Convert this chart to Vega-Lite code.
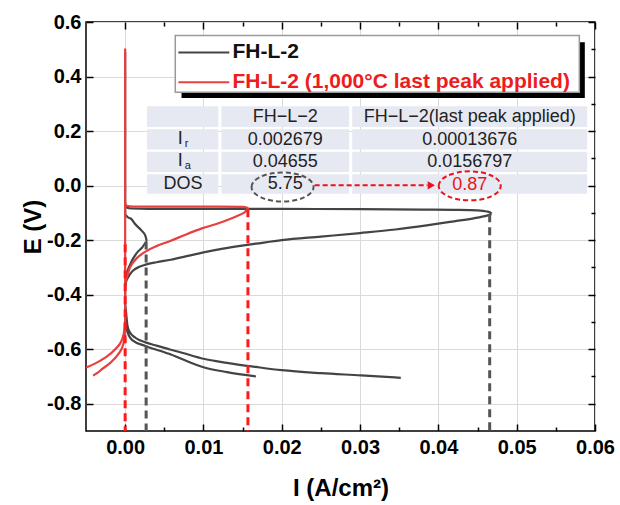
{
"$schema": "https://vega.github.io/schema/vega-lite/v6.json",
"width": 509, "height": 409,
"autosize": {"type": "none"},
"padding": {"left": 86, "top": 22, "right": 25, "bottom": 74},
"background": "white",
"config": {"view": {"stroke": "#000", "strokeWidth": 1.5}, "font": "Liberation Sans"},
"datasets": {
"cells": [
{"x": 0.0028, "x2": 0.0119, "y": 0.215, "y2": 0.291},
{"x": 0.0123, "x2": 0.0286, "y": 0.215, "y2": 0.291},
{"x": 0.0290, "x2": 0.0590, "y": 0.215, "y2": 0.291},
{"x": 0.0028, "x2": 0.0119, "y": 0.132, "y2": 0.207},
{"x": 0.0123, "x2": 0.0286, "y": 0.132, "y2": 0.207},
{"x": 0.0290, "x2": 0.0590, "y": 0.132, "y2": 0.207},
{"x": 0.0028, "x2": 0.0119, "y": 0.050, "y2": 0.124},
{"x": 0.0123, "x2": 0.0286, "y": 0.050, "y2": 0.124},
{"x": 0.0290, "x2": 0.0590, "y": 0.050, "y2": 0.124},
{"x": 0.0028, "x2": 0.0119, "y": -0.030, "y2": 0.042},
{"x": 0.0123, "x2": 0.0286, "y": -0.030, "y2": 0.042},
{"x": 0.0290, "x2": 0.0590, "y": -0.030, "y2": 0.042}
],
"shadow": [{"x": 0.0072, "x2": 0.0587, "y": 0.321, "y2": 0.526}],
"box": [{"x": 0.0064, "x2": 0.0580, "y": 0.342, "y2": 0.5505}],
"legendLines": [
{"s": "b", "x": 0.0068, "x2": 0.0133, "y": 0.488},
{"s": "r", "x": 0.0068, "x2": 0.0133, "y": 0.379}
],
"legendBlack": [{"x": 0.0137, "y": 0.490, "t": "FH-L-2"}],
"legendRed": [{"x": 0.0137, "y": 0.381, "t": "FH-L-2 (1,000°C last peak applied)"}],
"tableText": [
{"x": 0.02045, "y": 0.2525, "t": "FH−L−2"},
{"x": 0.044, "y": 0.2525, "t": "FH−L−2(last peak applied)"},
{"x": 0.00705, "y": 0.17, "t": "I"},
{"x": 0.02045, "y": 0.168, "t": "0.002679"},
{"x": 0.044, "y": 0.168, "t": "0.00013676"},
{"x": 0.00705, "y": 0.089, "t": "I"},
{"x": 0.02045, "y": 0.087, "t": "0.04655"},
{"x": 0.044, "y": 0.087, "t": "0.0156797"},
{"x": 0.0074, "y": 0.006, "t": "DOS"},
{"x": 0.02045, "y": 0.006, "t": "5.75"}
],
"subs": [
{"x": 0.0076, "y": 0.17, "t": "r"},
{"x": 0.0076, "y": 0.089, "t": "a"}
],
"redText": [{"x": 0.044, "y": 0.004, "t": "0.87"}],
"grayEllipse": [{"x": 0.0201, "y": -0.005}],
"redEllipse": [{"x": 0.044, "y": -0.001}],
"arrow": [{"x": 0.0242, "x2": 0.0386, "y": 0.001}],
"arrowHead": [{"x": 0.0391, "y": 0.001}],
"curves": [
{"s": "b", "o": 1, "x": 0.0352, "y": -0.705},
{"s": "b", "o": 2, "x": 0.0301, "y": -0.696},
{"s": "b", "o": 3, "x": 0.025, "y": -0.688},
{"s": "b", "o": 4, "x": 0.02, "y": -0.677},
{"s": "b", "o": 5, "x": 0.0167, "y": -0.665},
{"s": "b", "o": 6, "x": 0.013, "y": -0.65},
{"s": "b", "o": 7, "x": 0.01, "y": -0.635},
{"s": "b", "o": 8, "x": 0.0075, "y": -0.615},
{"s": "b", "o": 9, "x": 0.0056, "y": -0.6},
{"s": "b", "o": 10, "x": 0.004, "y": -0.587},
{"s": "b", "o": 11, "x": 0.0026, "y": -0.575},
{"s": "b", "o": 12, "x": 0.0013, "y": -0.558},
{"s": "b", "o": 13, "x": 0.0006, "y": -0.538},
{"s": "b", "o": 14, "x": 0.0003, "y": -0.515},
{"s": "b", "o": 15, "x": 0.0002, "y": -0.49},
{"s": "b", "o": 16, "x": 0.0001, "y": -0.46},
{"s": "b", "o": 17, "x": 0.0, "y": -0.43},
{"s": "b", "o": 18, "x": 0.0, "y": -0.38},
{"s": "b", "o": 19, "x": 0.0001, "y": -0.355},
{"s": "b", "o": 20, "x": 0.0004, "y": -0.335},
{"s": "b", "o": 21, "x": 0.001, "y": -0.312},
{"s": "b", "o": 22, "x": 0.0018, "y": -0.298},
{"s": "b", "o": 23, "x": 0.0026, "y": -0.29},
{"s": "b", "o": 24, "x": 0.004, "y": -0.281},
{"s": "b", "o": 25, "x": 0.0058, "y": -0.272},
{"s": "b", "o": 26, "x": 0.008, "y": -0.258},
{"s": "b", "o": 27, "x": 0.01, "y": -0.245},
{"s": "b", "o": 28, "x": 0.0125, "y": -0.231},
{"s": "b", "o": 29, "x": 0.0147, "y": -0.221},
{"s": "b", "o": 30, "x": 0.0167, "y": -0.213},
{"s": "b", "o": 31, "x": 0.02, "y": -0.2},
{"s": "b", "o": 32, "x": 0.025, "y": -0.187},
{"s": "b", "o": 33, "x": 0.03, "y": -0.174},
{"s": "b", "o": 34, "x": 0.0345, "y": -0.161},
{"s": "b", "o": 35, "x": 0.0385, "y": -0.146},
{"s": "b", "o": 36, "x": 0.042, "y": -0.131},
{"s": "b", "o": 37, "x": 0.0445, "y": -0.12},
{"s": "b", "o": 38, "x": 0.0462, "y": -0.11},
{"s": "b", "o": 39, "x": 0.0468, "y": -0.105},
{"s": "b", "o": 40, "x": 0.0467, "y": -0.1},
{"s": "b", "o": 41, "x": 0.0462, "y": -0.095},
{"s": "b", "o": 42, "x": 0.045, "y": -0.091},
{"s": "b", "o": 43, "x": 0.042, "y": -0.089},
{"s": "b", "o": 44, "x": 0.038, "y": -0.088},
{"s": "b", "o": 45, "x": 0.03, "y": -0.0865},
{"s": "b", "o": 46, "x": 0.02, "y": -0.0855},
{"s": "b", "o": 47, "x": 0.01, "y": -0.085},
{"s": "b", "o": 48, "x": 0.003, "y": -0.085},
{"s": "b", "o": 49, "x": 0.0008, "y": -0.084},
{"s": "b", "o": 50, "x": 0.0002, "y": -0.08},
{"s": "b", "o": 51, "x": 0.0, "y": -0.07},
{"s": "b", "o": 52, "x": 0.0, "y": 0.49},
{"s": "b", "o": 53, "x": 0.0, "y": -0.105},
{"s": "b", "o": 54, "x": 0.0003, "y": -0.115},
{"s": "b", "o": 55, "x": 0.0008, "y": -0.123},
{"s": "b", "o": 56, "x": 0.0013, "y": -0.142},
{"s": "b", "o": 57, "x": 0.0021, "y": -0.165},
{"s": "b", "o": 58, "x": 0.0026, "y": -0.185},
{"s": "b", "o": 59, "x": 0.0028, "y": -0.205},
{"s": "b", "o": 60, "x": 0.0022, "y": -0.226},
{"s": "b", "o": 61, "x": 0.0014, "y": -0.25},
{"s": "b", "o": 62, "x": 0.0007, "y": -0.285},
{"s": "b", "o": 63, "x": 0.0002, "y": -0.325},
{"s": "b", "o": 64, "x": 0.0, "y": -0.36},
{"s": "b", "o": 65, "x": 0.0, "y": -0.47},
{"s": "b", "o": 66, "x": 0.0001, "y": -0.505},
{"s": "b", "o": 67, "x": 0.0003, "y": -0.537},
{"s": "b", "o": 68, "x": 0.0009, "y": -0.567},
{"s": "b", "o": 69, "x": 0.0026, "y": -0.588},
{"s": "b", "o": 70, "x": 0.0056, "y": -0.617},
{"s": "b", "o": 71, "x": 0.008, "y": -0.645},
{"s": "b", "o": 72, "x": 0.01, "y": -0.666},
{"s": "b", "o": 73, "x": 0.013, "y": -0.684},
{"s": "b", "o": 74, "x": 0.0167, "y": -0.7},
{"s": "r", "o": 101, "x": -0.0041, "y": -0.697},
{"s": "r", "o": 102, "x": -0.0035, "y": -0.686},
{"s": "r", "o": 103, "x": -0.003, "y": -0.674},
{"s": "r", "o": 104, "x": -0.0019, "y": -0.65},
{"s": "r", "o": 105, "x": -0.0009, "y": -0.619},
{"s": "r", "o": 106, "x": -0.0004, "y": -0.595},
{"s": "r", "o": 107, "x": -0.0002, "y": -0.577},
{"s": "r", "o": 108, "x": 0.0, "y": -0.54},
{"s": "r", "o": 109, "x": 0.0, "y": -0.36},
{"s": "r", "o": 110, "x": 0.0002, "y": -0.338},
{"s": "r", "o": 111, "x": 0.0006, "y": -0.302},
{"s": "r", "o": 112, "x": 0.0013, "y": -0.272},
{"s": "r", "o": 113, "x": 0.0026, "y": -0.242},
{"s": "r", "o": 114, "x": 0.004, "y": -0.222},
{"s": "r", "o": 115, "x": 0.0056, "y": -0.205},
{"s": "r", "o": 116, "x": 0.0077, "y": -0.18},
{"s": "r", "o": 117, "x": 0.0098, "y": -0.157},
{"s": "r", "o": 118, "x": 0.012, "y": -0.137},
{"s": "r", "o": 119, "x": 0.0141, "y": -0.114},
{"s": "r", "o": 120, "x": 0.0152, "y": -0.099},
{"s": "r", "o": 121, "x": 0.0158, "y": -0.087},
{"s": "r", "o": 122, "x": 0.0156, "y": -0.081},
{"s": "r", "o": 123, "x": 0.015, "y": -0.078},
{"s": "r", "o": 124, "x": 0.012, "y": -0.077},
{"s": "r", "o": 125, "x": 0.005, "y": -0.077},
{"s": "r", "o": 126, "x": 0.001, "y": -0.077},
{"s": "r", "o": 127, "x": 0.0002, "y": -0.074},
{"s": "r", "o": 128, "x": 0.0, "y": -0.06},
{"s": "r", "o": 129, "x": 0.0, "y": 0.503},
{"s": "r", "o": 130, "x": 0.0, "y": -0.49},
{"s": "r", "o": 131, "x": -0.0001, "y": -0.528},
{"s": "r", "o": 132, "x": -0.0004, "y": -0.565},
{"s": "r", "o": 133, "x": -0.0013, "y": -0.601},
{"s": "r", "o": 134, "x": -0.0026, "y": -0.632},
{"s": "r", "o": 135, "x": -0.0038, "y": -0.652},
{"s": "r", "o": 136, "x": -0.0051, "y": -0.668},
{"s": "r", "o": 137, "x": -0.006, "y": -0.676}
],
"grayDash": [
{"x": 0.002679, "y": -0.205, "y2": -0.9},
{"x": 0.04655, "y": -0.105, "y2": -0.9}
],
"redDash": [
{"x": 0.0, "y": -0.215, "y2": -0.9},
{"x": 0.01568, "y": -0.087, "y2": -0.9}
],
"dummy": [{"x": 0.0, "y": 0.0}]
},
"layer": [
{
"layer": [
{
"data": {"name": "cells"},
"mark": {"type": "rect", "fill": "#e7e9f2"},
"encoding": {
"x": {"field": "x", "type": "quantitative", "scale": {"domain": [-0.005, 0.06], "nice": false, "zero": false},
"axis": {
"orient": "bottom", "title": "I (A/cm²)",
"values": [0, 0.005, 0.01, 0.015, 0.02, 0.025, 0.03, 0.035, 0.04, 0.045, 0.05, 0.055, 0.06],
"labelExpr": "abs(round(datum.value*200)) % 2 == 0 ? format(datum.value, '.2f') : ''",
"labelFont": "Liberation Sans", "labelFontWeight": "bold", "labelFontSize": 20, "labelColor": "#000",
"labelFlush": false, "labelOverlap": false, "labelPadding": 13,
"tickSize": {"condition": {"test": "abs(round(datum.value*200)) % 2 == 0", "value": -7}, "value": -4},
"tickColor": "#000", "tickWidth": 1.5,
"grid": true, "gridColor": "#dadada", "gridWidth": 1,
"gridOpacity": {"condition": {"test": "abs(round(datum.value*200)) % 2 == 0", "value": 1}, "value": 0},
"domain": false,
"titleFont": "Liberation Sans", "titleFontSize": 24, "titleFontWeight": "bold", "titleColor": "#000", "titlePadding": 16
}},
"x2": {"field": "x2"},
"y": {"field": "y", "type": "quantitative", "scale": {"domain": [-0.9, 0.6], "nice": false, "zero": false},
"axis": {
"orient": "left", "title": "E (V)",
"values": [-0.8, -0.7, -0.6, -0.5, -0.4, -0.3, -0.2, -0.1, 0, 0.1, 0.2, 0.3, 0.4, 0.5, 0.6],
"labelExpr": "abs(round(datum.value*10)) % 2 == 0 ? (datum.value < 0 ? '-' : '') + format(abs(datum.value), '.1f') : ''",
"labelFont": "Liberation Sans", "labelFontWeight": "bold", "labelFontSize": 20, "labelColor": "#000",
"labelFlush": false, "labelOverlap": false, "labelPadding": 12,
"tickSize": {"condition": {"test": "abs(round(datum.value*10)) % 2 == 0", "value": -7}, "value": -4},
"tickColor": "#000", "tickWidth": 1.5,
"grid": true, "gridColor": "#dadada", "gridWidth": 1,
"gridOpacity": {"condition": {"test": "abs(round(datum.value*10)) % 2 == 0", "value": 1}, "value": 0},
"domain": false,
"titleFont": "Liberation Sans", "titleFontSize": 24, "titleFontWeight": "bold", "titleColor": "#000", "titlePadding": 1
}},
"y2": {"field": "y2"}
}
},
{
"data": {"name": "shadow"},
"mark": {"type": "rect", "fill": "#000"},
"encoding": {"x": {"field": "x", "type": "quantitative"}, "x2": {"field": "x2"}, "y": {"field": "y", "type": "quantitative"}, "y2": {"field": "y2"}}
},
{
"data": {"name": "box"},
"mark": {"type": "rect", "fill": "#fff", "stroke": "#9a9a9a", "strokeWidth": 1.5},
"encoding": {"x": {"field": "x", "type": "quantitative"}, "x2": {"field": "x2"}, "y": {"field": "y", "type": "quantitative"}, "y2": {"field": "y2"}}
},
{
"data": {"name": "legendLines"},
"mark": {"type": "rule", "strokeWidth": 2},
"encoding": {
"x": {"field": "x", "type": "quantitative"}, "x2": {"field": "x2"},
"y": {"field": "y", "type": "quantitative"},
"color": {"field": "s", "type": "nominal", "scale": {"domain": ["b", "r"], "range": ["#444444", "#e8403f"]}, "legend": null}
}
},
{
"data": {"name": "legendBlack"},
"mark": {"type": "text", "align": "left", "baseline": "middle", "font": "Liberation Sans", "fontWeight": "bold", "fontSize": 21, "color": "#111"},
"encoding": {"x": {"field": "x", "type": "quantitative"}, "y": {"field": "y", "type": "quantitative"}, "text": {"field": "t"}}
},
{
"data": {"name": "legendRed"},
"mark": {"type": "text", "align": "left", "baseline": "middle", "font": "Liberation Sans", "fontWeight": "bold", "fontSize": 21, "color": "#ee1c1c"},
"encoding": {"x": {"field": "x", "type": "quantitative"}, "y": {"field": "y", "type": "quantitative"}, "text": {"field": "t"}}
},
{
"data": {"name": "tableText"},
"mark": {"type": "text", "align": "center", "baseline": "middle", "font": "Liberation Sans", "fontSize": 18, "color": "#222"},
"encoding": {"x": {"field": "x", "type": "quantitative"}, "y": {"field": "y", "type": "quantitative"}, "text": {"field": "t"}}
},
{
"data": {"name": "subs"},
"mark": {"type": "text", "align": "left", "baseline": "middle", "font": "Liberation Sans", "fontSize": 11, "dy": 5, "color": "#222"},
"encoding": {"x": {"field": "x", "type": "quantitative"}, "y": {"field": "y", "type": "quantitative"}, "text": {"field": "t"}}
},
{
"data": {"name": "redText"},
"mark": {"type": "text", "align": "center", "baseline": "middle", "font": "Liberation Sans", "fontSize": 18, "color": "#e8141c"},
"encoding": {"x": {"field": "x", "type": "quantitative"}, "y": {"field": "y", "type": "quantitative"}, "text": {"field": "t"}}
},
{
"data": {"name": "grayEllipse"},
"mark": {"type": "point", "shape": "M -1 0 A 1 0.468 0 1 1 1 0 A 1 0.468 0 1 1 -1 0 Z", "size": 3844, "filled": false, "stroke": "#555", "strokeWidth": 2, "strokeDash": [5, 3], "opacity": 1},
"encoding": {"x": {"field": "x", "type": "quantitative"}, "y": {"field": "y", "type": "quantitative"}}
},
{
"data": {"name": "redEllipse"},
"mark": {"type": "point", "shape": "M -1 0 A 1 0.468 0 1 1 1 0 A 1 0.468 0 1 1 -1 0 Z", "size": 3844, "filled": false, "stroke": "#e8141c", "strokeWidth": 2, "strokeDash": [5, 3], "opacity": 1},
"encoding": {"x": {"field": "x", "type": "quantitative"}, "y": {"field": "y", "type": "quantitative"}}
},
{
"data": {"name": "arrow"},
"mark": {"type": "rule", "stroke": "#e8141c", "strokeWidth": 2, "strokeDash": [5, 3]},
"encoding": {"x": {"field": "x", "type": "quantitative"}, "x2": {"field": "x2"}, "y": {"field": "y", "type": "quantitative"}}
},
{
"data": {"name": "arrowHead"},
"mark": {"type": "point", "shape": "triangle-right", "size": 70, "filled": true, "fill": "#e8141c", "opacity": 1},
"encoding": {"x": {"field": "x", "type": "quantitative"}, "y": {"field": "y", "type": "quantitative"}}
},
{
"data": {"name": "curves"},
"mark": {"type": "line", "strokeWidth": 2.2, "clip": true, "interpolate": "monotone"},
"encoding": {
"x": {"field": "x", "type": "quantitative"},
"y": {"field": "y", "type": "quantitative"},
"order": {"field": "o", "type": "quantitative"},
"detail": {"field": "s", "type": "nominal"},
"color": {"field": "s", "type": "nominal", "scale": {"domain": ["b", "r"], "range": ["#444444", "#e8403f"]}, "legend": null}
}
},
{
"data": {"name": "grayDash"},
"mark": {"type": "rule", "stroke": "#555555", "strokeWidth": 3, "strokeDash": [8, 5]},
"encoding": {"x": {"field": "x", "type": "quantitative"}, "y": {"field": "y", "type": "quantitative"}, "y2": {"field": "y2"}}
},
{
"data": {"name": "redDash"},
"mark": {"type": "rule", "stroke": "#ff1a1a", "strokeWidth": 3, "strokeDash": [8, 5]},
"encoding": {"x": {"field": "x", "type": "quantitative"}, "y": {"field": "y", "type": "quantitative"}, "y2": {"field": "y2"}}
}
]
},
{
"data": {"name": "dummy"},
"mark": {"type": "point", "opacity": 0},
"encoding": {
"x": {"field": "x", "type": "quantitative", "scale": {"domain": [-0.005, 0.06], "nice": false, "zero": false},
"axis": {
"orient": "top", "title": null, "labels": false, "domain": false, "grid": false,
"values": [0, 0.005, 0.01, 0.015, 0.02, 0.025, 0.03, 0.035, 0.04, 0.045, 0.05, 0.055, 0.06],
"tickSize": {"condition": {"test": "abs(round(datum.value*200)) % 2 == 0", "value": -7}, "value": -4},
"tickColor": "#000", "tickWidth": 1.5
}},
"y": {"field": "y", "type": "quantitative", "scale": {"domain": [-0.9, 0.6], "nice": false, "zero": false},
"axis": {
"orient": "right", "title": null, "labels": false, "domain": false, "grid": false,
"values": [-0.8, -0.7, -0.6, -0.5, -0.4, -0.3, -0.2, -0.1, 0, 0.1, 0.2, 0.3, 0.4, 0.5, 0.6],
"tickSize": {"condition": {"test": "abs(round(datum.value*10)) % 2 == 0", "value": -7}, "value": -4},
"tickColor": "#000", "tickWidth": 1.5
}}
}
}
],
"resolve": {"axis": {"x": "independent", "y": "independent"}}
}
